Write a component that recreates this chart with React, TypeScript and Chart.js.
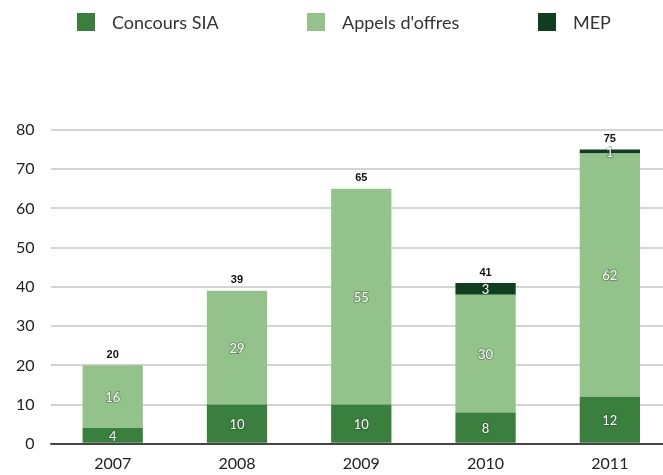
import React, { useEffect, useRef } from "react";
import { Chart, registerables } from "chart.js";

Chart.register(...registerables);

const years = ["2007", "2008", "2009", "2010", "2011"];
const concoursSIA = [4, 10, 10, 8, 12];
const appelsOffres = [16, 29, 55, 30, 62];
const mep = [0, 0, 0, 3, 1];
const totals = [20, 39, 65, 41, 75];
const yTicks = [0, 10, 20, 30, 40, 50, 60, 70, 80];
const seriesNames = ["Concours SIA", "Appels d'offres", "MEP"];
const seriesColors = ["#3b7f3f", "#94c28b", "#0f3d1f"];

const FONT = "Lato, 'Open Sans', sans-serif";

const barLabels = {
  id: "barLabels",
  afterDatasetsDraw(chart: any) {
    const ctx = chart.ctx;
    ctx.save();
    ctx.textAlign = "center";
    ctx.textBaseline = "middle";
    chart.data.datasets.forEach((ds: any, di: number) => {
      const meta = chart.getDatasetMeta(di);
      meta.data.forEach((bar: any, i: number) => {
        const v = ds.data[i];
        if (!v) return;
        const cy = (bar.y + bar.base) / 2;
        ctx.font = `13px ${FONT}`;
        ctx.lineWidth = 2;
        ctx.strokeStyle = "rgba(40,60,40,0.35)";
        ctx.strokeText(String(v), bar.x, cy + 1);
        ctx.fillStyle = "#ffffff";
        ctx.fillText(String(v), bar.x, cy + 1);
      });
    });
    const ys = chart.scales.y;
    const last = chart.getDatasetMeta(chart.data.datasets.length - 1);
    last.data.forEach((bar: any, i: number) => {
      ctx.font = `bold 11px Arial, 'Liberation Sans', sans-serif`;
      ctx.fillStyle = "#111111";
      ctx.textBaseline = "bottom";
      ctx.fillText(String(totals[i]), bar.x, ys.getPixelForValue(totals[i]) - 5);
    });
    ctx.restore();
  },
};

const legendPos = [
  { box: 77, text: 112 },
  { box: 307, text: 342 },
  { box: 538, text: 573 },
];

export default function App() {
  const ref = useRef<HTMLCanvasElement>(null);
  useEffect(() => {
    if (!ref.current) return;
    const chart = new Chart(ref.current, {
      type: "bar",
      data: {
        labels: years,
        datasets: [
          { label: seriesNames[0], data: concoursSIA, backgroundColor: seriesColors[0] },
          { label: seriesNames[1], data: appelsOffres, backgroundColor: seriesColors[1] },
          { label: seriesNames[2], data: mep, backgroundColor: seriesColors[2] },
        ],
      },
      options: {
        responsive: false,
        animation: false,
        layout: { padding: { left: 0, right: 8, top: 130, bottom: 0 } },
        datasets: { bar: { barPercentage: 0.97, categoryPercentage: 0.5 } },
        plugins: {
          legend: { display: false },
          tooltip: { enabled: false },
        },
        scales: {
          x: {
            stacked: true,
            grid: { display: false },
            border: { display: true, color: "#444444", width: 1.5 },
            ticks: { color: "#222222", padding: 2, font: { size: 16, family: FONT } },
          },
          y: {
            stacked: true,
            min: 0,
            max: 80,
            afterBuildTicks: (axis: any) => {
              axis.ticks = yTicks.map((v) => ({ value: v }));
            },
            grid: {
              drawTicks: false,
              color: (c: any) => (c.tick && c.tick.value === 0 ? "#444444" : "#d4d4d4"),
              lineWidth: 2,
            },
            border: { display: false },
            ticks: { color: "#222222", padding: 16, font: { size: 16, family: FONT } },
          },
        },
      },
      plugins: [barLabels],
    });
    return () => chart.destroy();
  }, []);
  return (
    <div style={{ position: "fixed", left: 0, top: 0, width: 663, height: 475, overflow: "hidden", background: "#fff" }}>
      <canvas ref={ref} width={680} height={475} style={{ display: "block" }} />
      {seriesNames.map((name, i) => (
        <React.Fragment key={name}>
          <div
            style={{
              position: "absolute",
              left: legendPos[i].box,
              top: 13,
              width: 18,
              height: 18,
              background: seriesColors[i],
            }}
          />
          <div
            style={{
              position: "absolute",
              left: legendPos[i].text,
              top: 10,
              fontFamily: FONT,
              fontSize: 18,
              lineHeight: "24px",
              color: "#333333",
              whiteSpace: "nowrap",
            }}
          >
            {name}
          </div>
        </React.Fragment>
      ))}
    </div>
  );
}
